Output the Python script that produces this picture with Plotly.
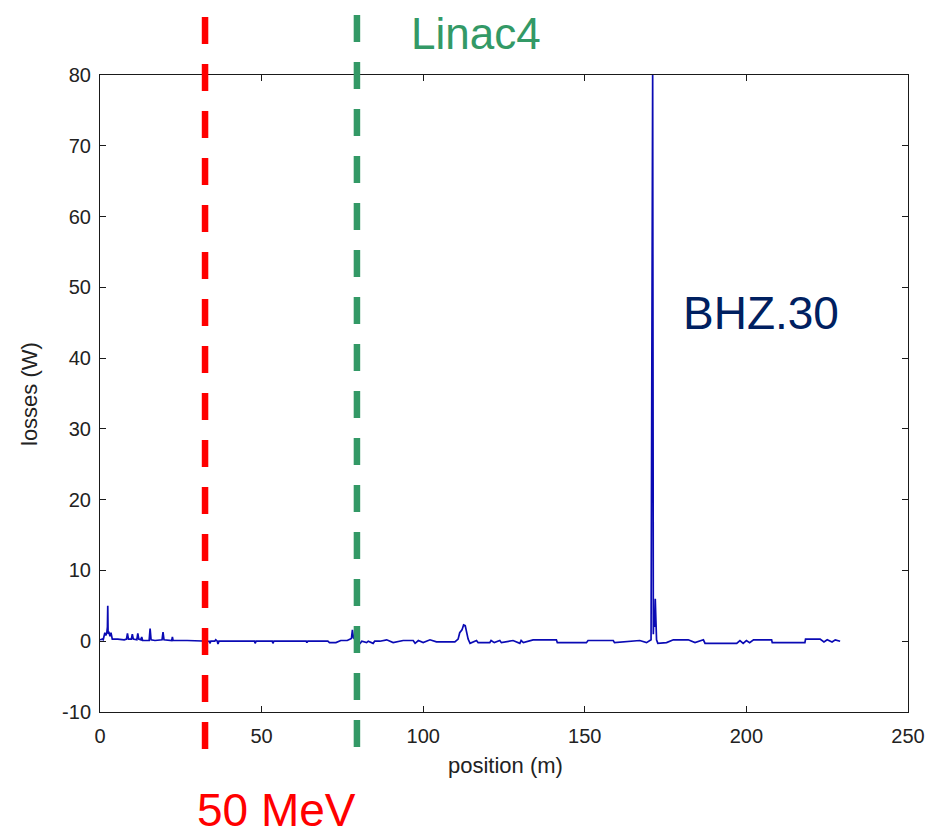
import plotly.graph_objects as go

# ---- data ----
positions = [
    0.0, 0.6, 1.0, 1.3, 1.5, 1.8, 2.1, 2.3, 2.4, 2.5, 2.8, 3.1, 3.4, 3.6, 3.8,
    5.5, 7.5, 8.2, 8.5, 8.8, 9.7, 10.0, 10.3, 11.4, 11.7, 12.0, 12.7, 12.9, 13.2,
    15.2, 15.5, 15.8, 17.0, 19.2, 19.5, 19.8, 22.2, 22.4, 22.6, 27.0, 32.5,
    33.8, 34.0, 34.3, 35.5, 35.8, 36.3, 36.5, 36.8, 42.0, 47.8, 48.0, 48.3,
    53.3, 53.5, 53.8, 63.8, 64.0, 64.3, 70.5, 71.0, 73.0, 74.5, 76.5,
    77.8, 78.1, 78.4, 78.8, 79.5, 80.5, 81.0, 82.5, 83.0, 84.5, 85.0,
    86.6, 88.7, 90.7, 93.8, 96.9, 97.5, 98.5, 100.0, 102.1, 104.1, 109.8,
    110.8, 111.3, 112.0, 112.5, 113.0, 113.5, 113.9, 114.5, 116.5, 117.0,
    120.6, 121.0, 122.0, 123.7, 124.2, 127.8, 129.9, 130.3, 131.0, 134.0,
    141.2, 141.5, 150.5, 151.0, 158.8, 159.2, 165.0, 167.0, 169.1, 170.5,
    171.0, 171.2, 171.4, 171.6, 171.8, 172.0, 172.2, 172.6, 175.3, 177.4,
    182.0, 184.1, 186.7, 187.2, 197.0, 198.0, 199.0, 200.0, 201.0, 202.2,
    207.8, 208.0, 218.1, 218.3, 222.8, 224.0, 225.0, 226.5, 227.5, 229.0,
]
losses = [
    0.2, 0.3, 0.2, 0.9, 1.2, 0.8, 1.2, 2.0, 5.0, 1.1, 1.2, 0.7, 1.2, 0.4, 0.3,
    0.3, 0.2, 0.3, 1.1, 0.3, 0.3, 1.0, 0.3, 0.2, 1.1, 0.3, 0.2, 0.6, 0.1,
    0.1, 1.8, 0.2, 0.1, 0.2, 1.3, 0.2, 0.1, 0.6, 0.1, 0.1, 0.0,
    0.0, -0.3, 0.0, 0.0, 0.2, 0.0, -0.4, 0.0, 0.0, 0.0, -0.3, 0.0,
    0.0, -0.3, 0.0, 0.0, -0.2, 0.0, 0.0, -0.2, -0.2, 0.1, 0.1,
    0.4, 1.6, 0.5, 0.3, 0.0, -0.3, 0.0, -0.2, 0.0, -0.3, 0.0,
    0.0, 0.2, -0.2, 0.1, 0.1, -0.3, 0.1, -0.2, 0.2, -0.1, -0.1,
    0.3, 1.2, 1.6, 2.3, 2.2, 1.3, 0.3, -0.3, 0.1, -0.2,
    -0.2, 0.1, -0.2, 0.1, -0.2, 0.1, -0.3, 0.1, -0.2, 0.2,
    0.2, -0.2, -0.2, 0.1, 0.1, -0.2, 0.1, 0.1, -0.2, 0.2,
    80.0, 1.0, 4.4, 2.0, 6.0, 3.0, 0.2, -0.3, -0.2, 0.2,
    0.2, -0.2, 0.2, -0.3, -0.3, 0.1, -0.3, 0.1, -0.2, 0.2,
    0.2, -0.2, -0.2, 0.3, 0.3, -0.1, 0.2, -0.1, 0.2, 0.0,
]

marker_positions = [32.5, 79.5]          # m
marker_colors = ["#ff0000", "#339966"]
x_ticks = [0, 50, 100, 150, 200, 250]
y_ticks = [-10, 0, 10, 20, 30, 40, 50, 60, 70, 80]
y_tick_text = ["-10", "0", "10", "20", "30", "40", "50", "60", "70", "80"]

# ---- figure ----
OFF = 8                      # page body margin
W, H = 933 - OFF, 835 - OFF
L, R, T, B = 100 - OFF, 25, 75 - OFF, 123
plot_h = H - T - B
plot_w = W - L - R

def py(screen_y):
    return (H - B - (screen_y - OFF)) / plot_h

def px(screen_x):
    return ((screen_x - OFF) - L) / plot_w

fig = go.Figure()
fig.add_trace(go.Scatter(
    x=positions, y=losses, mode="lines",
    line=dict(color="#0a0ab4", width=1.7),
    showlegend=False, hoverinfo="skip",
))

shapes = []
for xp, col, top, bot in zip(marker_positions, marker_colors, [17, 15], [750, 747]):
    shapes.append(dict(
        type="line", xref="x", yref="paper",
        x0=xp, x1=xp, y0=py(top), y1=py(bot),
        line=dict(color=col, width=6.5, dash="27px,20px"),
        layer="above",
    ))

font_main = "Liberation Sans, Arial, sans-serif"
axis_common = dict(
    showline=True, linecolor="#1a1a1a", linewidth=1, mirror="ticks",
    ticks="inside", ticklen=6, tickcolor="#1a1a1a", tickwidth=1,
    showgrid=False, zeroline=False,
    tickfont=dict(family=font_main, size=20, color="#222222"),
)

fig.update_layout(
    width=W, height=H,
    margin=dict(l=L, r=R, t=T, b=B, autoexpand=False),
    paper_bgcolor="white", plot_bgcolor="white",
    xaxis=dict(range=[0, 250], tickvals=x_ticks, ticklabelstandoff=6, **axis_common),
    yaxis=dict(range=[-10, 80], tickvals=y_ticks, ticktext=y_tick_text,
               ticklabelstandoff=4, **axis_common),
    shapes=shapes,
    annotations=[
        dict(text="position (m)", xref="paper", yref="paper", x=px(505), y=py(766),
             showarrow=False, xanchor="center", yanchor="middle",
             font=dict(family=font_main, size=22, color="#222222")),
        dict(text="losses (W)", xref="paper", yref="paper", x=px(29), y=py(394),
             showarrow=False, xanchor="center", yanchor="middle", textangle=-90,
             font=dict(family=font_main, size=22, color="#222222")),
        dict(text="Linac4", xref="paper", yref="paper", x=px(476), y=py(8),
             showarrow=False, xanchor="center", yanchor="top", borderpad=0,
             font=dict(family=font_main, size=44, color="#339966")),
        dict(text="BHZ.30", xref="paper", yref="paper", x=px(761), y=py(313),
             showarrow=False, xanchor="center", yanchor="middle",
             font=dict(family=font_main, size=46, color="#002060")),
        dict(text="50 MeV", xref="paper", yref="paper", x=px(276), y=py(810),
             showarrow=False, xanchor="center", yanchor="middle",
             font=dict(family=font_main, size=46, color="#ff0000")),
    ],
)

fig.write_html("out.html")
